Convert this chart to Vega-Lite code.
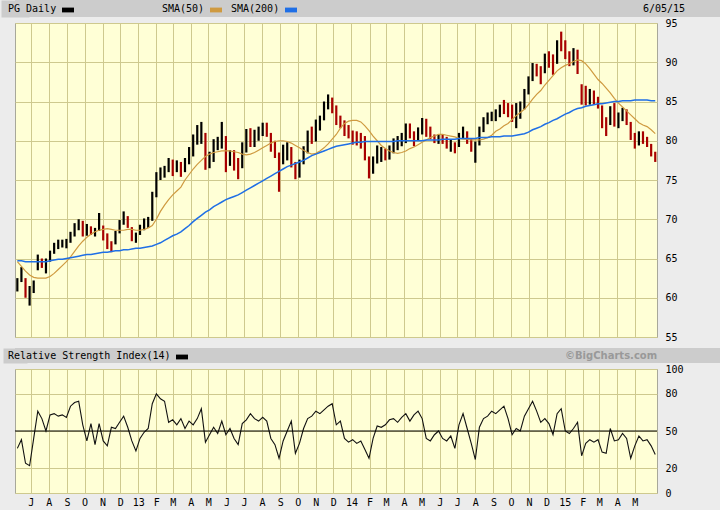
{
  "$schema": "https://vega.github.io/schema/vega-lite/v6.json",
  "background": "#ececec",
  "padding": {"left": 0, "top": 0, "right": 0, "bottom": 4},
  "spacing": 0,
  "datasets": {
    "pg": [
      {"date":"2012-06-08","hi":62.5,"lo":60.8,"close":62.0,"sma50":64.6,"sma200":64.7,"rsi":36},
      {"date":"2012-06-15","hi":63.9,"lo":62.0,"close":63.0,"sma50":64.0,"sma200":64.7,"rsi":43},
      {"date":"2012-06-22","hi":62.5,"lo":60.0,"close":60.5,"sma50":63.4,"sma200":64.6,"rsi":24},
      {"date":"2012-06-29","hi":61.5,"lo":59.0,"close":61.2,"sma50":62.9,"sma200":64.6,"rsi":22},
      {"date":"2012-07-06","hi":62.2,"lo":60.6,"close":61.8,"sma50":62.6,"sma200":64.6,"rsi":44},
      {"date":"2012-07-13","hi":65.5,"lo":63.5,"close":64.5,"sma50":62.5,"sma200":64.6,"rsi":66},
      {"date":"2012-07-20","hi":65.0,"lo":63.8,"close":64.2,"sma50":62.5,"sma200":64.6,"rsi":60},
      {"date":"2012-07-27","hi":65.0,"lo":63.1,"close":64.5,"sma50":62.5,"sma200":64.6,"rsi":50},
      {"date":"2012-08-03","hi":66.0,"lo":64.6,"close":65.6,"sma50":62.7,"sma200":64.7,"rsi":63},
      {"date":"2012-08-10","hi":67.0,"lo":65.6,"close":66.5,"sma50":63.1,"sma200":64.8,"rsi":64},
      {"date":"2012-08-17","hi":67.4,"lo":66.2,"close":66.8,"sma50":63.6,"sma200":64.9,"rsi":62},
      {"date":"2012-08-24","hi":67.4,"lo":66.4,"close":67.0,"sma50":64.1,"sma200":64.9,"rsi":63},
      {"date":"2012-08-31","hi":67.5,"lo":66.3,"close":67.2,"sma50":64.6,"sma200":65.0,"rsi":61},
      {"date":"2012-09-07","hi":68.4,"lo":67.0,"close":68.0,"sma50":65.2,"sma200":65.1,"rsi":70},
      {"date":"2012-09-14","hi":69.5,"lo":67.8,"close":69.0,"sma50":65.9,"sma200":65.2,"rsi":73},
      {"date":"2012-09-21","hi":70.0,"lo":68.6,"close":69.3,"sma50":66.6,"sma200":65.3,"rsi":74},
      {"date":"2012-09-28","hi":69.8,"lo":67.8,"close":68.5,"sma50":67.2,"sma200":65.4,"rsi":55},
      {"date":"2012-10-05","hi":69.4,"lo":67.9,"close":68.6,"sma50":67.7,"sma200":65.5,"rsi":42},
      {"date":"2012-10-12","hi":69.1,"lo":68.0,"close":68.4,"sma50":68.1,"sma200":65.5,"rsi":56},
      {"date":"2012-10-19","hi":68.9,"lo":67.8,"close":68.8,"sma50":68.4,"sma200":65.6,"rsi":39},
      {"date":"2012-10-26","hi":70.8,"lo":68.5,"close":69.0,"sma50":68.6,"sma200":65.7,"rsi":56},
      {"date":"2012-11-02","hi":69.2,"lo":67.3,"close":67.6,"sma50":68.7,"sma200":65.8,"rsi":42},
      {"date":"2012-11-09","hi":68.2,"lo":66.2,"close":66.5,"sma50":68.8,"sma200":65.8,"rsi":38},
      {"date":"2012-11-16","hi":67.2,"lo":65.8,"close":66.3,"sma50":68.7,"sma200":65.9,"rsi":53},
      {"date":"2012-11-23","hi":68.5,"lo":66.8,"close":68.0,"sma50":68.6,"sma200":66.0,"rsi":52},
      {"date":"2012-11-30","hi":69.9,"lo":68.2,"close":69.5,"sma50":68.6,"sma200":66.0,"rsi":57},
      {"date":"2012-12-07","hi":71.0,"lo":69.3,"close":70.2,"sma50":68.6,"sma200":66.1,"rsi":62},
      {"date":"2012-12-14","hi":70.4,"lo":68.9,"close":69.2,"sma50":68.7,"sma200":66.1,"rsi":53},
      {"date":"2012-12-21","hi":69.0,"lo":67.2,"close":67.6,"sma50":68.7,"sma200":66.2,"rsi":42},
      {"date":"2012-12-28","hi":68.3,"lo":67.0,"close":67.9,"sma50":68.6,"sma200":66.3,"rsi":34},
      {"date":"2013-01-04","hi":69.3,"lo":68.0,"close":68.8,"sma50":68.6,"sma200":66.3,"rsi":44},
      {"date":"2013-01-11","hi":70.1,"lo":68.6,"close":69.6,"sma50":68.7,"sma200":66.4,"rsi":49},
      {"date":"2013-01-18","hi":70.3,"lo":68.9,"close":69.9,"sma50":68.9,"sma200":66.5,"rsi":52},
      {"date":"2013-01-25","hi":73.5,"lo":69.8,"close":73.2,"sma50":69.2,"sma200":66.6,"rsi":72},
      {"date":"2013-02-01","hi":76.0,"lo":72.8,"close":75.6,"sma50":70.0,"sma200":66.8,"rsi":80},
      {"date":"2013-02-08","hi":76.6,"lo":75.0,"close":76.0,"sma50":71.0,"sma200":67.0,"rsi":76},
      {"date":"2013-02-15","hi":76.8,"lo":75.3,"close":76.3,"sma50":71.8,"sma200":67.3,"rsi":74},
      {"date":"2013-02-22","hi":77.8,"lo":76.0,"close":77.0,"sma50":72.5,"sma200":67.6,"rsi":57},
      {"date":"2013-03-01","hi":77.6,"lo":75.5,"close":76.5,"sma50":73.1,"sma200":67.9,"rsi":59},
      {"date":"2013-03-08","hi":77.5,"lo":76.0,"close":77.0,"sma50":73.6,"sma200":68.1,"rsi":55},
      {"date":"2013-03-15","hi":77.3,"lo":75.4,"close":76.5,"sma50":74.1,"sma200":68.4,"rsi":60},
      {"date":"2013-03-22","hi":77.8,"lo":76.0,"close":77.2,"sma50":75.0,"sma200":68.8,"rsi":52},
      {"date":"2013-03-29","hi":79.2,"lo":77.0,"close":79.0,"sma50":75.7,"sma200":69.2,"rsi":58},
      {"date":"2013-04-05","hi":80.8,"lo":78.0,"close":80.5,"sma50":76.4,"sma200":69.7,"rsi":55},
      {"date":"2013-04-12","hi":82.0,"lo":79.5,"close":80.5,"sma50":77.0,"sma200":70.1,"rsi":60},
      {"date":"2013-04-19","hi":82.4,"lo":79.6,"close":81.0,"sma50":77.5,"sma200":70.5,"rsi":68},
      {"date":"2013-04-26","hi":81.0,"lo":76.3,"close":77.0,"sma50":78.0,"sma200":70.9,"rsi":41},
      {"date":"2013-05-03","hi":78.6,"lo":76.5,"close":77.8,"sma50":78.3,"sma200":71.2,"rsi":47},
      {"date":"2013-05-10","hi":80.2,"lo":77.3,"close":79.5,"sma50":78.5,"sma200":71.6,"rsi":53},
      {"date":"2013-05-17","hi":80.5,"lo":78.8,"close":79.8,"sma50":78.6,"sma200":71.9,"rsi":48},
      {"date":"2013-05-24","hi":82.4,"lo":79.0,"close":80.5,"sma50":78.7,"sma200":72.2,"rsi":58},
      {"date":"2013-05-31","hi":80.6,"lo":76.0,"close":77.0,"sma50":78.7,"sma200":72.5,"rsi":47},
      {"date":"2013-06-07","hi":78.8,"lo":76.8,"close":77.5,"sma50":78.7,"sma200":72.7,"rsi":52},
      {"date":"2013-06-14","hi":78.8,"lo":76.2,"close":77.2,"sma50":78.6,"sma200":72.9,"rsi":44},
      {"date":"2013-06-21","hi":77.8,"lo":75.1,"close":76.0,"sma50":78.5,"sma200":73.1,"rsi":39},
      {"date":"2013-06-28","hi":79.8,"lo":76.5,"close":79.3,"sma50":78.3,"sma200":73.4,"rsi":56},
      {"date":"2013-07-05","hi":81.5,"lo":78.5,"close":80.8,"sma50":78.2,"sma200":73.7,"rsi":59},
      {"date":"2013-07-12","hi":81.6,"lo":79.2,"close":80.0,"sma50":78.3,"sma200":74.0,"rsi":64},
      {"date":"2013-07-19","hi":81.4,"lo":79.2,"close":80.6,"sma50":78.5,"sma200":74.3,"rsi":60},
      {"date":"2013-07-26","hi":81.8,"lo":80.0,"close":81.2,"sma50":78.8,"sma200":74.6,"rsi":58},
      {"date":"2013-08-02","hi":82.3,"lo":80.6,"close":81.6,"sma50":79.1,"sma200":74.9,"rsi":61},
      {"date":"2013-08-09","hi":82.3,"lo":80.5,"close":81.3,"sma50":79.4,"sma200":75.2,"rsi":58},
      {"date":"2013-08-16","hi":81.0,"lo":78.6,"close":79.2,"sma50":79.7,"sma200":75.5,"rsi":44},
      {"date":"2013-08-23","hi":80.0,"lo":77.8,"close":78.2,"sma50":79.9,"sma200":75.8,"rsi":39},
      {"date":"2013-08-30","hi":78.5,"lo":73.5,"close":77.0,"sma50":80.0,"sma200":76.1,"rsi":28},
      {"date":"2013-09-06","hi":79.5,"lo":77.0,"close":78.8,"sma50":80.0,"sma200":76.4,"rsi":42},
      {"date":"2013-09-13","hi":79.8,"lo":77.5,"close":79.2,"sma50":79.9,"sma200":76.7,"rsi":50},
      {"date":"2013-09-20","hi":79.2,"lo":76.6,"close":77.0,"sma50":79.7,"sma200":76.9,"rsi":58},
      {"date":"2013-09-27","hi":77.3,"lo":75.1,"close":75.6,"sma50":79.4,"sma200":77.1,"rsi":32},
      {"date":"2013-10-04","hi":77.6,"lo":75.3,"close":77.3,"sma50":79.1,"sma200":77.3,"rsi":40},
      {"date":"2013-10-11","hi":79.3,"lo":77.0,"close":78.8,"sma50":78.8,"sma200":77.5,"rsi":52},
      {"date":"2013-10-18","hi":81.3,"lo":78.4,"close":80.9,"sma50":78.5,"sma200":77.8,"rsi":60},
      {"date":"2013-10-25","hi":81.8,"lo":79.6,"close":80.5,"sma50":78.3,"sma200":78.1,"rsi":62},
      {"date":"2013-11-01","hi":82.7,"lo":79.9,"close":82.3,"sma50":78.4,"sma200":78.3,"rsi":66},
      {"date":"2013-11-08","hi":83.2,"lo":81.3,"close":82.6,"sma50":78.7,"sma200":78.5,"rsi":64},
      {"date":"2013-11-15","hi":85.0,"lo":82.6,"close":84.6,"sma50":79.1,"sma200":78.7,"rsi":67},
      {"date":"2013-11-22","hi":85.9,"lo":84.0,"close":85.2,"sma50":79.6,"sma200":78.9,"rsi":70},
      {"date":"2013-11-29","hi":85.5,"lo":83.5,"close":84.0,"sma50":80.2,"sma200":79.1,"rsi":72},
      {"date":"2013-12-06","hi":84.5,"lo":82.0,"close":82.4,"sma50":80.8,"sma200":79.3,"rsi":55},
      {"date":"2013-12-13","hi":83.2,"lo":81.6,"close":82.0,"sma50":81.6,"sma200":79.4,"rsi":58},
      {"date":"2013-12-20","hi":82.6,"lo":80.6,"close":81.0,"sma50":82.2,"sma200":79.5,"rsi":44},
      {"date":"2013-12-27","hi":82.0,"lo":80.3,"close":80.8,"sma50":82.5,"sma200":79.6,"rsi":41},
      {"date":"2014-01-03","hi":81.3,"lo":79.5,"close":80.0,"sma50":82.6,"sma200":79.7,"rsi":43},
      {"date":"2014-01-10","hi":81.2,"lo":79.4,"close":79.8,"sma50":82.6,"sma200":79.8,"rsi":40},
      {"date":"2014-01-17","hi":81.0,"lo":79.0,"close":79.6,"sma50":82.4,"sma200":79.8,"rsi":42},
      {"date":"2014-01-24","hi":80.6,"lo":77.5,"close":78.0,"sma50":81.9,"sma200":79.9,"rsi":35},
      {"date":"2014-01-31","hi":78.0,"lo":75.2,"close":75.8,"sma50":81.3,"sma200":79.9,"rsi":28},
      {"date":"2014-02-07","hi":78.0,"lo":75.8,"close":77.4,"sma50":80.6,"sma200":79.9,"rsi":44},
      {"date":"2014-02-14","hi":79.4,"lo":77.1,"close":78.0,"sma50":80.0,"sma200":79.9,"rsi":54},
      {"date":"2014-02-21","hi":79.2,"lo":77.3,"close":78.5,"sma50":79.4,"sma200":79.9,"rsi":53},
      {"date":"2014-02-28","hi":79.0,"lo":77.5,"close":78.0,"sma50":79.0,"sma200":79.9,"rsi":55},
      {"date":"2014-03-07","hi":79.4,"lo":77.6,"close":79.0,"sma50":78.7,"sma200":79.9,"rsi":59},
      {"date":"2014-03-14","hi":80.3,"lo":78.4,"close":79.5,"sma50":78.5,"sma200":79.9,"rsi":60},
      {"date":"2014-03-21","hi":80.6,"lo":78.8,"close":80.2,"sma50":78.4,"sma200":80.0,"rsi":57},
      {"date":"2014-03-28","hi":81.0,"lo":79.3,"close":80.6,"sma50":78.5,"sma200":80.0,"rsi":61},
      {"date":"2014-04-04","hi":82.2,"lo":79.7,"close":81.8,"sma50":78.7,"sma200":80.0,"rsi":64},
      {"date":"2014-04-11","hi":82.2,"lo":80.3,"close":81.0,"sma50":79.0,"sma200":80.0,"rsi":58},
      {"date":"2014-04-18","hi":81.2,"lo":79.3,"close":80.0,"sma50":79.2,"sma200":80.0,"rsi":63},
      {"date":"2014-04-25","hi":81.7,"lo":80.0,"close":81.4,"sma50":79.5,"sma200":80.0,"rsi":66},
      {"date":"2014-05-02","hi":82.9,"lo":80.8,"close":82.2,"sma50":79.8,"sma200":80.0,"rsi":60},
      {"date":"2014-05-09","hi":82.8,"lo":80.5,"close":81.6,"sma50":80.1,"sma200":80.1,"rsi":44},
      {"date":"2014-05-16","hi":81.8,"lo":80.2,"close":80.6,"sma50":80.4,"sma200":80.1,"rsi":42},
      {"date":"2014-05-23","hi":80.8,"lo":79.7,"close":80.3,"sma50":80.6,"sma200":80.1,"rsi":47},
      {"date":"2014-05-30","hi":80.8,"lo":79.6,"close":80.4,"sma50":80.8,"sma200":80.1,"rsi":50},
      {"date":"2014-06-06","hi":80.8,"lo":79.6,"close":80.0,"sma50":80.8,"sma200":80.2,"rsi":44},
      {"date":"2014-06-13","hi":80.5,"lo":79.0,"close":79.4,"sma50":80.7,"sma200":80.2,"rsi":42},
      {"date":"2014-06-20","hi":80.2,"lo":78.6,"close":79.6,"sma50":80.6,"sma200":80.2,"rsi":46},
      {"date":"2014-06-27","hi":79.8,"lo":78.4,"close":78.8,"sma50":80.5,"sma200":80.2,"rsi":36},
      {"date":"2014-07-04","hi":81.0,"lo":79.2,"close":80.6,"sma50":80.3,"sma200":80.3,"rsi":55},
      {"date":"2014-07-11","hi":81.8,"lo":80.3,"close":81.2,"sma50":80.2,"sma200":80.3,"rsi":64},
      {"date":"2014-07-18","hi":81.2,"lo":79.6,"close":80.0,"sma50":80.2,"sma200":80.3,"rsi":52},
      {"date":"2014-07-25","hi":80.3,"lo":78.6,"close":79.0,"sma50":80.1,"sma200":80.3,"rsi":40},
      {"date":"2014-08-01","hi":79.9,"lo":77.2,"close":79.2,"sma50":80.1,"sma200":80.3,"rsi":27},
      {"date":"2014-08-08","hi":81.8,"lo":79.4,"close":81.4,"sma50":80.1,"sma200":80.4,"rsi":53},
      {"date":"2014-08-15","hi":83.0,"lo":81.1,"close":82.6,"sma50":80.2,"sma200":80.4,"rsi":60},
      {"date":"2014-08-22","hi":83.6,"lo":82.1,"close":83.0,"sma50":80.4,"sma200":80.4,"rsi":62},
      {"date":"2014-08-29","hi":83.7,"lo":82.5,"close":83.2,"sma50":80.7,"sma200":80.5,"rsi":66},
      {"date":"2014-09-05","hi":84.0,"lo":82.5,"close":83.4,"sma50":81.2,"sma200":80.5,"rsi":64},
      {"date":"2014-09-12","hi":84.6,"lo":83.0,"close":84.2,"sma50":81.5,"sma200":80.5,"rsi":67},
      {"date":"2014-09-19","hi":85.2,"lo":83.4,"close":84.0,"sma50":81.9,"sma200":80.6,"rsi":70},
      {"date":"2014-09-26","hi":84.8,"lo":83.0,"close":83.6,"sma50":82.2,"sma200":80.6,"rsi":60},
      {"date":"2014-10-03","hi":84.6,"lo":82.4,"close":82.8,"sma50":82.7,"sma200":80.6,"rsi":47},
      {"date":"2014-10-10","hi":84.8,"lo":81.6,"close":84.2,"sma50":83.2,"sma200":80.7,"rsi":52},
      {"date":"2014-10-17","hi":85.0,"lo":82.8,"close":84.5,"sma50":83.6,"sma200":80.8,"rsi":50},
      {"date":"2014-10-24","hi":86.6,"lo":84.0,"close":86.2,"sma50":84.0,"sma200":80.9,"rsi":62},
      {"date":"2014-10-31","hi":88.2,"lo":85.9,"close":87.6,"sma50":84.6,"sma200":81.1,"rsi":68},
      {"date":"2014-11-07","hi":89.9,"lo":87.6,"close":89.2,"sma50":85.3,"sma200":81.4,"rsi":74},
      {"date":"2014-11-14","hi":89.8,"lo":88.2,"close":88.8,"sma50":85.9,"sma200":81.6,"rsi":66},
      {"date":"2014-11-21","hi":89.5,"lo":87.2,"close":88.0,"sma50":86.4,"sma200":81.8,"rsi":57},
      {"date":"2014-11-28","hi":91.1,"lo":88.6,"close":90.6,"sma50":87.1,"sma200":82.1,"rsi":60},
      {"date":"2014-12-05","hi":91.4,"lo":89.3,"close":90.2,"sma50":87.7,"sma200":82.3,"rsi":56},
      {"date":"2014-12-12","hi":91.0,"lo":88.4,"close":89.0,"sma50":88.3,"sma200":82.6,"rsi":47},
      {"date":"2014-12-19","hi":92.8,"lo":89.8,"close":92.4,"sma50":88.9,"sma200":82.8,"rsi":64},
      {"date":"2014-12-26","hi":93.9,"lo":91.4,"close":92.0,"sma50":89.3,"sma200":83.1,"rsi":68},
      {"date":"2015-01-02","hi":92.8,"lo":90.4,"close":90.8,"sma50":89.6,"sma200":83.4,"rsi":50},
      {"date":"2015-01-09","hi":91.4,"lo":89.5,"close":90.2,"sma50":89.8,"sma200":83.6,"rsi":48},
      {"date":"2015-01-16","hi":91.8,"lo":89.6,"close":90.6,"sma50":90.1,"sma200":83.9,"rsi":52},
      {"date":"2015-01-23","hi":91.6,"lo":88.5,"close":89.2,"sma50":90.3,"sma200":84.1,"rsi":57},
      {"date":"2015-01-30","hi":87.2,"lo":84.6,"close":86.0,"sma50":90.2,"sma200":84.2,"rsi":30},
      {"date":"2015-02-06","hi":87.0,"lo":84.5,"close":85.0,"sma50":89.8,"sma200":84.4,"rsi":40},
      {"date":"2015-02-13","hi":86.6,"lo":84.6,"close":86.0,"sma50":89.2,"sma200":84.5,"rsi":43},
      {"date":"2015-02-20","hi":86.4,"lo":84.6,"close":85.2,"sma50":88.5,"sma200":84.6,"rsi":41},
      {"date":"2015-02-27","hi":85.6,"lo":84.1,"close":84.5,"sma50":87.8,"sma200":84.7,"rsi":43},
      {"date":"2015-03-06","hi":84.5,"lo":81.6,"close":82.0,"sma50":87.3,"sma200":84.7,"rsi":33},
      {"date":"2015-03-13","hi":83.0,"lo":80.6,"close":81.2,"sma50":86.7,"sma200":84.8,"rsi":32},
      {"date":"2015-03-20","hi":84.4,"lo":82.0,"close":83.8,"sma50":86.1,"sma200":84.9,"rsi":52},
      {"date":"2015-03-27","hi":84.8,"lo":81.8,"close":82.4,"sma50":85.4,"sma200":85.0,"rsi":42},
      {"date":"2015-04-03","hi":83.6,"lo":81.6,"close":82.6,"sma50":84.8,"sma200":85.0,"rsi":43},
      {"date":"2015-04-10","hi":84.2,"lo":82.5,"close":83.8,"sma50":84.3,"sma200":85.1,"rsi":48},
      {"date":"2015-04-17","hi":84.0,"lo":82.0,"close":82.4,"sma50":83.8,"sma200":85.1,"rsi":44},
      {"date":"2015-04-24","hi":82.4,"lo":80.1,"close":80.6,"sma50":83.3,"sma200":85.1,"rsi":28},
      {"date":"2015-05-01","hi":81.0,"lo":79.0,"close":79.6,"sma50":82.8,"sma200":85.2,"rsi":38},
      {"date":"2015-05-08","hi":81.2,"lo":79.4,"close":80.8,"sma50":82.3,"sma200":85.2,"rsi":46},
      {"date":"2015-05-15","hi":81.2,"lo":79.6,"close":80.2,"sma50":82.0,"sma200":85.2,"rsi":42},
      {"date":"2015-05-22","hi":80.5,"lo":79.2,"close":79.5,"sma50":81.8,"sma200":85.2,"rsi":43},
      {"date":"2015-05-29","hi":79.6,"lo":78.0,"close":78.4,"sma50":81.4,"sma200":85.1,"rsi":38},
      {"date":"2015-06-05","hi":78.6,"lo":77.3,"close":77.6,"sma50":80.9,"sma200":85.1,"rsi":31}
    ]
  },
  "vconcat": [
    {
      "width": 706,
      "height": 17,
      "view": {"fill": "#cccccc", "stroke": null},
      "data": {"values": []},
      "layer": [
        {
          "mark": {"type": "point", "filled": true, "opacity": 1},
          "encoding": {
            "y": {
              "field": "v", "type": "quantitative", "scale": {"domain": [0, 1]},
              "axis": {"orient": "left", "domain": true, "domainColor": "#cccccc", "domainWidth": 28, "labels": false, "grid": false, "minExtent": 14, "maxExtent": 14}
            },
            "color": {"value": "black"},
            "shape": {
              "field": "k", "type": "nominal",
              "scale": {"domain": ["PG Daily"], "range": ["M-1,-0.4H1V0.4H-1Z"]},
              "legend": {"title": "PG Daily", "legendX": -7, "legendY": 3, "labelExpr": "''"}
            }
          }
        },
        {
          "mark": {"type": "point", "filled": true, "opacity": 1},
          "encoding": {
            "color": {"value": "#cf9a40"},
            "shape": {
              "field": "k", "type": "nominal",
              "scale": {"domain": ["SMA(50)"], "range": ["M-1,-0.4H1V0.4H-1Z"]},
              "legend": {"title": "SMA(50)", "legendX": 147, "legendY": 3, "labelExpr": "''"}
            }
          }
        },
        {
          "mark": {"type": "point", "filled": true, "opacity": 1},
          "encoding": {
            "color": {"value": "#1f6fe6"},
            "shape": {
              "field": "k", "type": "nominal",
              "scale": {"domain": ["SMA(200)"], "range": ["M-1,-0.4H1V0.4H-1Z"]},
              "legend": {"title": "SMA(200)", "legendX": 216, "legendY": 3, "labelExpr": "''"}
            }
          }
        },
        {
          "mark": {"type": "point", "filled": true, "opacity": 1},
          "encoding": {
            "color": {"value": "black"},
            "shape": {
              "field": "k", "type": "nominal",
              "scale": {"domain": ["date"], "range": ["M-1,-0.4H1V0.4H-1Z"]},
              "legend": {"title": "6/05/15", "legendX": 628, "legendY": 3, "labelExpr": "''", "symbolOpacity": 0}
            }
          }
        }
      ],
      "resolve": {"scale": {"shape": "independent"}, "legend": {"shape": "independent"}}
    },
    {
      "width": 642,
      "height": 314,
      "view": {"fill": "#ffffd6", "stroke": "#a8a89a"},
      "data": {"name": "pg"},
      "transform": [
        {"window": [{"op": "lag", "field": "close", "as": "prev"}], "sort": [{"field": "date"}]}
      ],
      "encoding": {
        "x": {
          "field": "date", "type": "temporal",
          "scale": {"type": "utc", "domain": [{"year": 2012, "month": 6, "date": 4, "utc": true}, {"year": 2015, "month": 6, "date": 8, "utc": true}]},
          "axis": {
            "orient": "bottom", "grid": true, "labels": false, "tickCount": "month",
            "gridOpacity": {"condition": {"test": "datum.value > utc(2015, 4, 15)", "value": 0}, "value": 1},
            "minExtent": 10, "maxExtent": 10
          }
        }
      },
      "layer": [
        {
          "mark": {"type": "rule", "strokeWidth": 2.2},
          "encoding": {
            "y": {
              "field": "lo", "type": "quantitative",
              "scale": {"domain": [55, 95], "nice": false, "zero": false},
              "axis": {"orient": "right", "values": [55, 60, 65, 70, 75, 80, 85, 90, 95], "grid": true, "labelPadding": 8}
            },
            "y2": {"field": "hi"},
            "color": {
              "condition": {"test": "datum.prev != null && datum.close < datum.prev", "value": "#a80000"},
              "value": "#000000"
            }
          }
        },
        {
          "mark": {"type": "line", "strokeWidth": 1.2, "color": "#cf9a40"},
          "encoding": {
            "y": {
              "field": "sma50", "type": "quantitative",
              "axis": {"orient": "left", "labels": false, "grid": false, "minExtent": 14, "maxExtent": 14}
            }
          }
        },
        {
          "mark": {"type": "line", "strokeWidth": 1.5, "color": "#1f6fe6"},
          "encoding": {
            "y": {"field": "sma200", "type": "quantitative", "axis": null}
          }
        }
      ],
      "resolve": {"axis": {"y": "independent"}}
    },
    {
      "width": 706,
      "height": 15,
      "view": {"fill": "#cccccc", "stroke": null},
      "data": {"values": []},
      "layer": [
        {
          "mark": {"type": "point", "filled": true, "opacity": 1},
          "encoding": {
            "y": {
              "field": "v", "type": "quantitative", "scale": {"domain": [0, 1]},
              "axis": {"orient": "left", "domain": true, "domainColor": "#cccccc", "domainWidth": 24, "labels": false, "grid": false, "minExtent": 14, "maxExtent": 14}
            },
            "color": {"value": "black"},
            "shape": {
              "field": "k", "type": "nominal",
              "scale": {"domain": ["Relative Strength Index(14)"], "range": ["M-1,-0.4H1V0.4H-1Z"]},
              "legend": {"title": "Relative Strength Index(14)", "legendX": -7, "legendY": 2, "labelExpr": "''"}
            }
          }
        },
        {
          "mark": {"type": "point", "filled": true, "opacity": 1},
          "encoding": {
            "color": {"value": "#999999"},
            "shape": {
              "field": "k", "type": "nominal",
              "scale": {"domain": ["copyright"], "range": ["M-1,-0.4H1V0.4H-1Z"]},
              "legend": {
                "title": "©BigCharts.com", "legendX": 550, "legendY": 2, "labelExpr": "''", "symbolOpacity": 0,
                "titleFont": "DejaVu Sans", "titleFontWeight": "bold", "titleFontSize": 10, "titleColor": "#999999"
              }
            }
          }
        }
      ],
      "resolve": {"scale": {"shape": "independent"}, "legend": {"shape": "independent"}}
    },
    {
      "width": 642,
      "height": 124,
      "view": {"fill": "#ffffd6", "stroke": "#a8a89a"},
      "layer": [
        {
          "data": {"name": "pg"},
          "mark": {"type": "line", "strokeWidth": 1.1, "color": "#111111"},
          "encoding": {
            "x": {
              "field": "date", "type": "temporal",
              "scale": {"type": "utc", "domain": [{"year": 2012, "month": 6, "date": 4, "utc": true}, {"year": 2015, "month": 6, "date": 8, "utc": true}]},
              "axis": {
                "orient": "bottom", "grid": true, "tickCount": "month", "labelPadding": 4,
                "labelExpr": "datum.value > utc(2015, 4, 15) ? '' : (utcmonth(datum.value) == 0 ? utcFormat(datum.value, '%y') : substring(utcFormat(datum.value, '%b'), 0, 1))",
                "gridOpacity": {"condition": {"test": "datum.value > utc(2015, 4, 15)", "value": 0}, "value": 1}
              }
            },
            "y": {
              "field": "rsi", "type": "quantitative",
              "scale": {"domain": [0, 100], "nice": false},
              "axis": {"orient": "right", "values": [0, 20, 50, 80, 100], "grid": true, "labelPadding": 8}
            }
          }
        },
        {
          "data": {"values": [{"level": 50}]},
          "mark": {"type": "rule", "color": "#000000", "strokeWidth": 1},
          "encoding": {
            "y": {
              "field": "level", "type": "quantitative",
              "axis": {"orient": "left", "labels": false, "grid": false, "minExtent": 14, "maxExtent": 14}
            }
          }
        }
      ],
      "resolve": {"axis": {"y": "independent"}}
    }
  ],
  "resolve": {"scale": {"shape": "independent"}, "legend": {"shape": "independent"}},
  "config": {
    "view": {"stroke": null},
    "axis": {
      "domain": false, "ticks": false, "title": null,
      "labelFont": "DejaVu Sans Mono", "labelFontSize": 10, "labelColor": "#000000",
      "gridColor": "#cec98e", "gridWidth": 1
    },
    "legend": {
      "orient": "none", "padding": 0, "titleOrient": "left",
      "titleFont": "DejaVu Sans Mono", "titleFontSize": 10, "titleFontWeight": "normal",
      "titleColor": "#000000", "titlePadding": 4, "titleBaseline": "middle",
      "symbolSize": 144, "symbolStrokeColor": "#ffffff", "symbolStrokeWidth": 1.2,
      "labelOffset": 0
    }
  }
}
